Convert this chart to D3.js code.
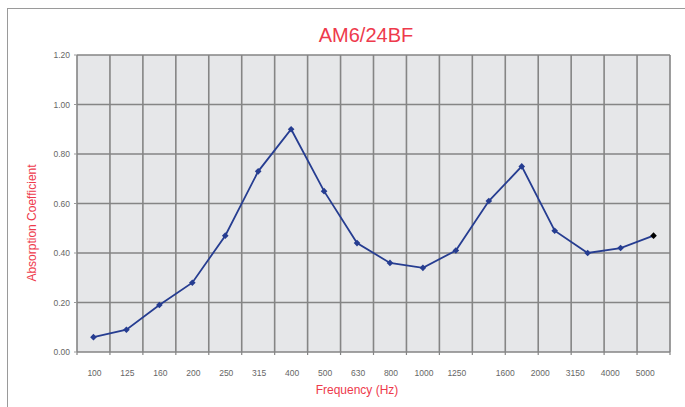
<!DOCTYPE html>
<html>
<head>
<meta charset="utf-8">
<script src="https://cdn.jsdelivr.net/npm/d3@7"></script>
<style>
  body { margin: 0; background: #fff; }
  svg { display: block; font-family: "Liberation Sans", Arial, sans-serif; }
</style>
</head>
<body>
<svg id="chart"></svg>
<script>
// frequencies (Hz) of the measured bands
const frequencies = ["100", "125", "160", "200", "250", "315", "400", "500", "630",
  "800", "1000", "1250", "1600", "2000", "2500", "3150", "4000", "5000"];
// absorption coefficient per band
const absorption = [0.06, 0.09, 0.19, 0.28, 0.47, 0.73, 0.90, 0.65, 0.44,
  0.36, 0.34, 0.41, 0.61, 0.75, 0.49, 0.40, 0.42, 0.47];
// labels under the axis (2500 is not printed on the original)
const lowLabels = ["100", "125", "160", "200", "250", "315", "400", "500", "630", "800", "1000", "1250"];
const highLabels = ["1600", "2000", "3150", "4000", "5000"];
const yTicks = [0, 0.2, 0.4, 0.6, 0.8, 1.0, 1.2];

const width = 685, height = 407;
const margin = { top: 55, right: 15, bottom: 55, left: 77 };
const red = "#ee3a4c";
const gridColor = "#858585";

const svg = d3.select("#chart")
  .attr("width", width)
  .attr("height", height);

// outer frame (top & left edges visible)
svg.append("rect")
  .attr("x", 7.5).attr("y", 8.5)
  .attr("width", width + 20).attr("height", height + 20)
  .attr("fill", "none")
  .attr("stroke", "#9a9a9a")
  .attr("stroke-width", 1);

const x = d3.scaleBand()
  .domain(frequencies)
  .range([margin.left, width - margin.right]);

const y = d3.scaleLinear()
  .domain([0, 1.2])
  .range([height - margin.bottom, margin.top]);

const plotW = x.range()[1] - x.range()[0];

// plot background
svg.append("rect")
  .attr("x", margin.left)
  .attr("y", y(1.2))
  .attr("width", plotW)
  .attr("height", y(0) - y(1.2))
  .attr("fill", "#e6e7e9");

const grid = svg.append("g")
  .attr("stroke", gridColor)
  .attr("stroke-width", 1.6);

// horizontal grid
grid.selectAll(".hline")
  .data(yTicks)
  .join("line")
  .attr("x1", margin.left).attr("x2", margin.left + plotW)
  .attr("y1", d => y(d)).attr("y2", d => y(d));

// vertical grid at band boundaries
const boundaries = frequencies.map(f => x(f)).concat([x.range()[1]]);
grid.selectAll(".vline")
  .data(boundaries)
  .join("line")
  .attr("x1", d => d).attr("x2", d => d)
  .attr("y1", y(1.2)).attr("y2", y(0));

// x tick marks under the axis
grid.selectAll(".xtick")
  .data(boundaries)
  .join("line")
  .attr("x1", d => d).attr("x2", d => d)
  .attr("y1", y(0)).attr("y2", y(0) + 3)
  .attr("stroke-width", 1.2);

// y ticks + labels
const yAxis = svg.append("g");
yAxis.selectAll("line")
  .data(yTicks)
  .join("line")
  .attr("x1", margin.left - 3).attr("x2", margin.left)
  .attr("y1", d => y(d)).attr("y2", d => y(d))
  .attr("stroke", "#999")
  .attr("stroke-width", 1);

yAxis.selectAll("text")
  .data(yTicks)
  .join("text")
  .attr("x", margin.left - 7)
  .attr("y", d => y(d) + 3)
  .attr("text-anchor", "end")
  .attr("font-size", 8.5)
  .attr("fill", "#666")
  .text(d => d.toFixed(2));

// x labels
const xLabels = svg.append("g")
  .attr("font-size", 8.5)
  .attr("fill", "#666")
  .attr("text-anchor", "middle");

xLabels.selectAll(".low")
  .data(lowLabels)
  .join("text")
  .attr("x", d => x(d) + x.bandwidth() / 2 + 1)
  .attr("y", y(0) + 24)
  .text(d => d);

const xHigh = d3.scalePoint()
  .domain(highLabels)
  .range([x("2000"), x("5000") + x.bandwidth() * 0.25]);

xLabels.selectAll(".high")
  .data(highLabels)
  .join("text")
  .attr("x", d => xHigh(d))
  .attr("y", y(0) + 24)
  .text(d => d);

// line
const line = d3.line()
  .x((d, i) => x(frequencies[i]) + x.bandwidth() / 2)
  .y(d => y(d));

svg.append("path")
  .datum(absorption)
  .attr("d", line)
  .attr("fill", "none")
  .attr("stroke", "#263d91")
  .attr("stroke-width", 1.8);

// diamond markers (rotated squares)
const marker = d3.symbol().type(d3.symbolSquare).size(22);
svg.selectAll(".marker")
  .data(absorption)
  .join("path")
  .attr("transform", (d, i) => `translate(${x(frequencies[i]) + x.bandwidth() / 2},${y(d)}) rotate(45)`)
  .attr("d", marker)
  .attr("fill", (d, i) => i === absorption.length - 1 ? "#000" : "#263d91");

// title
svg.append("text")
  .attr("x", 366)
  .attr("y", 42)
  .attr("text-anchor", "middle")
  .attr("font-size", 20)
  .attr("fill", red)
  .text("AM6/24BF");

// axis titles
svg.append("text")
  .attr("x", 357)
  .attr("y", 394)
  .attr("text-anchor", "middle")
  .attr("font-size", 12)
  .attr("fill", red)
  .text("Frequency (Hz)");

svg.append("text")
  .attr("transform", "translate(36,223) rotate(-90)")
  .attr("text-anchor", "middle")
  .attr("font-size", 12)
  .attr("fill", red)
  .text("Absorption Coefficient");
</script>
</body>
</html>
